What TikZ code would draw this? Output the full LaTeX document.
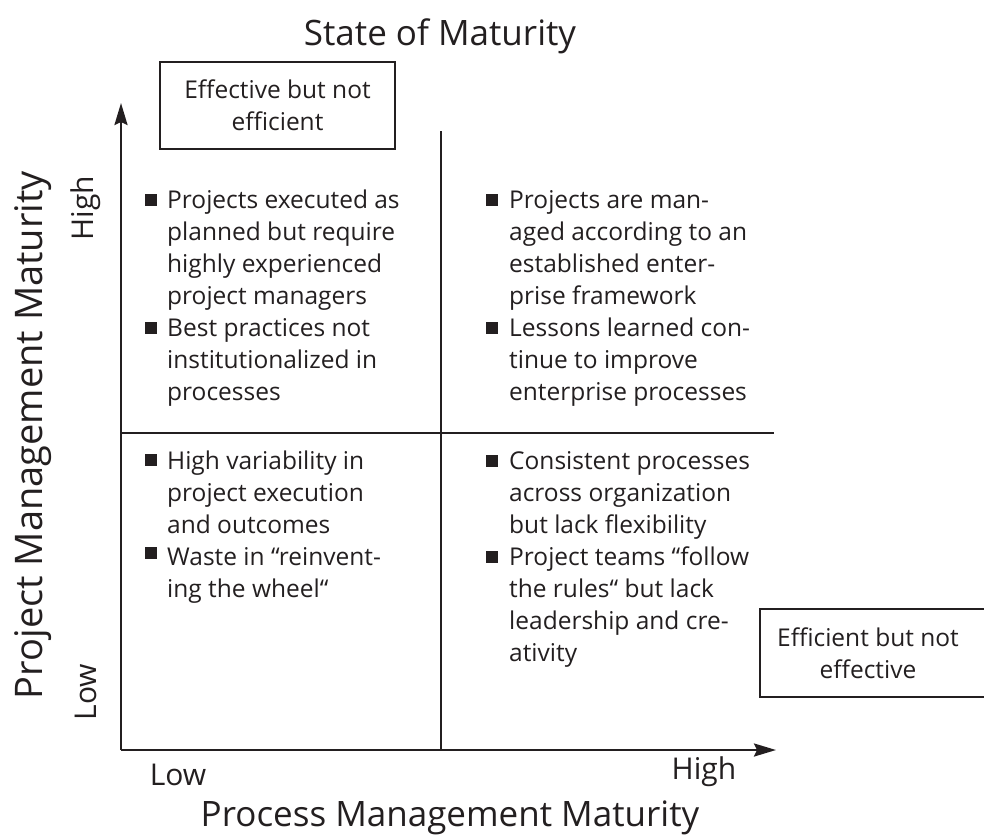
\documentclass[tikz,border=0pt]{standalone}
\usepackage{fontspec}
\setmainfont{Open Sans}
\usetikzlibrary{arrows.meta}
\definecolor{ink}{HTML}{231F20}
\tikzset{
  qtext/.style={anchor=base west, inner sep=0pt, text=ink, font=\fontsize{24.5}{28}\selectfont},
  bul/.style={fill=ink, draw=none, minimum size=11.5pt, inner sep=0pt},
  axis/.style={draw=ink, line width=2.5pt, -{Stealth[length=22pt,width=13pt,inset=3pt]}},
  divider/.style={draw=ink, line width=2.3pt},
  boxlabel/.style={draw=ink, line width=2.6pt, text=ink, align=center, inner sep=0pt,
    font=\fontsize{24.5}{32}\selectfont},
  bigtitle/.style={text=ink, inner sep=0pt, font=\fontsize{35}{40}\selectfont},
  ticklabel/.style={text=ink, inner sep=0pt, font=\fontsize{30}{32}\selectfont}
}
\begin{document}
\begin{tikzpicture}[x=1pt, y={(0pt,-1pt)}]
\useasboundingbox (0,0) rectangle (984,839);
\clip (0,0) rectangle (984,839);

% titles
\node[bigtitle] (title) at (440,36) {State of Maturity};
\node[bigtitle] (xtitle) at (450,818) {Process Management Maturity};
\node[bigtitle, rotate=90, font=\fontsize{38}{42}\selectfont] (ytitle) at (33,435) {Project Management Maturity};

% tick labels
\node[ticklabel] (xlow) at (178,775) {Low};
\node[ticklabel] (xhigh) at (704,772) {High};
\node[ticklabel, rotate=90] (yhigh) at (86,208) {High};
\node[ticklabel, rotate=90] (ylow) at (86,692) {Low};

% axes and dividers
\coordinate (O) at (121,750);
\coordinate (ytip) at (121,103);
\coordinate (xtip) at (776,750);
\coordinate (vtop) at (441,131);
\coordinate (vbot) at (441,750);
\coordinate (hl) at (121,433);
\coordinate (hr) at (774,433);
\draw[divider] (vtop) -- (vbot);
\draw[divider] (hl) -- (hr);
\draw[axis] (O) -- (ytip);
\draw[axis] (O) -- (xtip);

% label boxes
\node[boxlabel, minimum width=235pt, minimum height=87pt] (eff) at (277.5,105.5)
  {Effective but not\\efficient};
\draw[draw=ink, line width=2.6pt] (1000,609) -- (760,609) -- (760,697) -- (1000,697);
\node[text=ink, align=center, inner sep=0pt, font=\fontsize{24.5}{32}\selectfont] (effi) at (868,653)
  {Efficient but not\\effective};

% top left quadrant
\foreach \t [count=\i] in {Projects executed as, planned but require, highly experienced,
  project managers, Best practices not, institutionalized in, processes}
  \node[qtext] (tl\i) at (167,{208+32*(\i-1)}) {\t};
\node[bul] (tlb1) at (151,200) {};
\node[bul] (tlb2) at (151,328) {};

% top right quadrant
\foreach \t [count=\i] in {Projects are man-, aged according to an, established enter-,
  prise framework, Lessons learned con-, tinue to improve, enterprise processes}
  \node[qtext] (tr\i) at (509,{208+32*(\i-1)}) {\t};
\node[bul] (trb1) at (492,200) {};
\node[bul] (trb2) at (492,328) {};

% bottom left quadrant
\foreach \t [count=\i] in {High variability in, project execution, and outcomes,
  Waste in “reinvent-, ing the wheel“}
  \node[qtext] (bl\i) at (167,{469+32*(\i-1)}) {\t};
\node[bul] (blb1) at (151,460) {};
\node[bul] (blb2) at (151,553) {};

% bottom right quadrant
\foreach \t [count=\i] in {Consistent processes, across organization, but lack flexibility,
  Project teams “follow, the rules“ but lack, leadership and cre-, ativity}
  \node[qtext] (br\i) at (509,{469+32*(\i-1)}) {\t};
\node[bul] (brb1) at (492,461) {};
\node[bul] (brb2) at (492,557) {};
\end{tikzpicture}
\end{document}
